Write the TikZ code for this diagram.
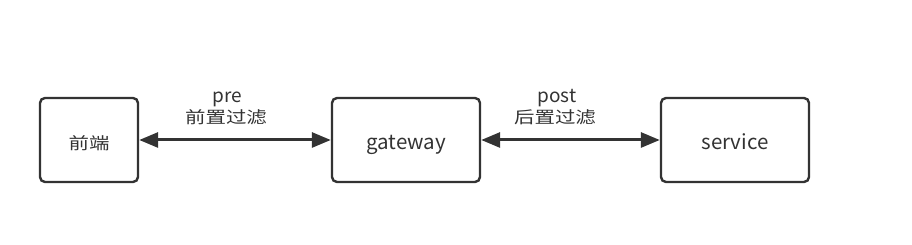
\documentclass[tikz,border=0pt]{standalone}
\usepackage{fontspec}
\setmainfont{Noto Sans CJK SC}
\usetikzlibrary{arrows.meta}
\definecolor{ink}{HTML}{333333}
\newcommand{\wide}[1]{\scalebox{1.24}[1]{#1}}
\begin{document}
\begin{tikzpicture}[x=1pt,y=1pt,
  box/.style={draw=ink, line width=2.4pt, rounded corners=5pt, minimum height=84pt, text=ink, inner sep=0pt, text height=20pt, text depth=0pt},
  latin/.style={font=\fontsize{20.5}{24}\selectfont},
  cjk/.style={font=\fontsize{16.5}{20}\selectfont},
  link/.style={draw=ink, line width=3pt, {Triangle[length=19pt,width=15pt]}-{Triangle[length=19pt,width=15pt]}},
  lbl/.style={text=ink, inner sep=0pt, anchor=base}]
\useasboundingbox (0,0) rectangle (912,245);
\node[box, cjk, minimum width=98pt] (fe) at (89,105) {\wide{前端}};
\node[box, latin, minimum width=148pt] (gw) at (406,105) {gateway};
\node[box, latin, minimum width=148pt] (sv) at (735,105) {service};
\draw[link] (fe) -- (gw);
\draw[link] (gw) -- (sv);
\node[lbl, font=\fontsize{19}{24}\selectfont] (pre) at (227,142) {pre};
\node[lbl, cjk] (prezh) at (226,121.5) {\wide{前置过滤}};
\node[lbl, font=\fontsize{19}{24}\selectfont] (post) at (557,142) {post};
\node[lbl, cjk] (postzh) at (555,121.5) {\wide{后置过滤}};
\end{tikzpicture}
\end{document}
